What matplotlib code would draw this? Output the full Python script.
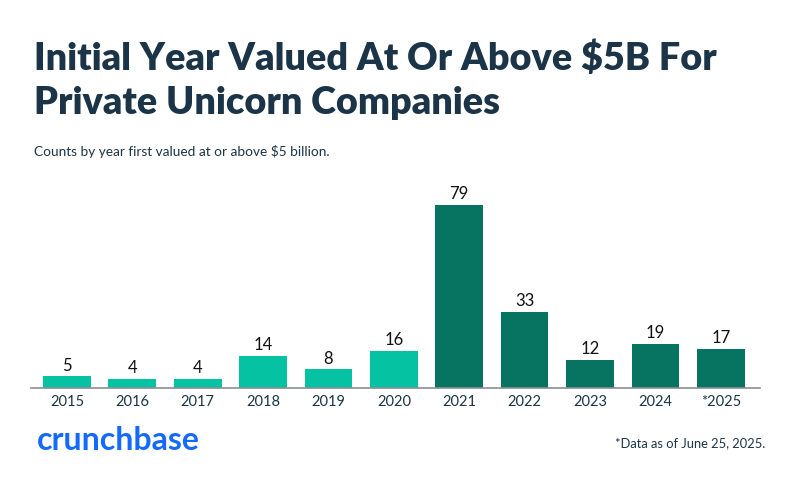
import matplotlib.pyplot as plt

# data
years = ["2015", "2016", "2017", "2018", "2019", "2020",
         "2021", "2022", "2023", "2024", "*2025"]
counts = [5, 4, 4, 14, 8, 16, 79, 33, 12, 19, 17]
light_years = ["2015", "2016", "2017", "2018", "2019", "2020"]

LIGHT = "#05C2A2"
DARK = "#067461"
NAVY = "#1B3447"

plt.rcParams['font.family'] = ['Lato', 'DejaVu Sans']

fig = plt.figure(figsize=(7.94, 4.86), dpi=100)
ax = fig.add_axes([31 / 794, 1 - 388 / 486, (760 - 31) / 794, 197 / 486])

colors = [LIGHT if y in light_years else DARK for y in years]
x = list(range(len(years)))
bars = ax.bar(x, counts, width=0.73, color=colors)

for xi, v in zip(x, counts):
    ax.text(xi, v + 1.2, str(v), ha="center", va="bottom",
            fontsize=12, color="#111111")

ax.set_xlim(-0.55, 10.6)
ax.set_ylim(0, 85)
ax.set_xticks(x)
ax.set_xticklabels(years, fontsize=10.5, color=NAVY)
ax.tick_params(axis="x", length=0, pad=5)
ax.set_yticks([])
for s in ["top", "right", "left"]:
    ax.spines[s].set_visible(False)
ax.spines["bottom"].set_color("#8a8f94")
ax.spines["bottom"].set_linewidth(1.2)

fig.text(34 / 794, 1 - 58 / 486, "Initial Year Valued At Or Above $5B For",
         fontsize=27.2, fontweight="heavy", color=NAVY, va="center")
fig.text(34 / 794, 1 - 103 / 486, "Private Unicorn Companies",
         fontsize=27.2, fontweight="heavy", color=NAVY, va="center")
fig.text(34 / 794, 1 - 152 / 486, "Counts by year first valued at or above $5 billion.",
         fontsize=9.8, color=NAVY, va="center")

fig.text(37 / 794, 1 - 440 / 486, "crunchbase", fontsize=23, fontweight="bold",
         color="#146AFF", va="center")
fig.text(765 / 794, 1 - 443 / 486, "*Data as of June 25, 2025.",
         fontsize=9.3, color=NAVY, va="center", ha="right")

fig.savefig("out.png", dpi=100)
